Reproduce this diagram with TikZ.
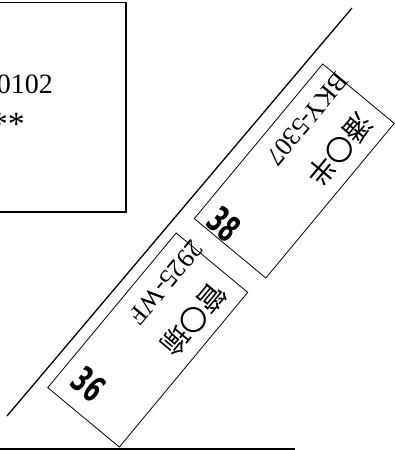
\documentclass[tikz,border=0pt]{standalone}
\usepackage{fontspec}
\usepackage{graphicx}
\setmainfont{Liberation Serif}
\newfontfamily\cjkfont{Noto Sans CJK TC}
\newfontfamily\numfont{DejaVu Sans}
\tikzset{
  frame/.style={draw, line width=1.6pt, rectangle, inner sep=0pt},
  plotbox/.style={draw, line width=0.8pt, rectangle, inner sep=0pt,
    minimum width=201pt, minimum height=93pt, rotate=50.3},
  edgeline/.style={line width=1.3pt},
  infotxt/.style={inner sep=0pt, font=\fontsize{28}{28}\selectfont},
  startxt/.style={inner sep=0pt, font=\fontsize{34}{34}\selectfont},
  platetxt/.style={inner sep=0pt, font=\fontsize{26}{26}\selectfont, rotate=230.3},
  nametxt/.style={inner sep=0pt, font=\cjkfont\fontsize{28}{28}\selectfont, rotate=230.3},
  lotnum/.style={inner sep=0pt, font=\numfont\bfseries\fontsize{36}{36}\selectfont, rotate=-39.7}
}
\begin{document}
\begin{tikzpicture}[x=1pt,y=-1pt]
\useasboundingbox (0,0) rectangle (394,450);
% info box at top left
\node[frame, minimum width=140pt, minimum height=209.5pt, anchor=north east] (info) at (127,1.5) {};
\node[infotxt, anchor=base east] (infoA) at (53,93) {0102};
\node[startxt, anchor=base east] (infoB) at (25,135) {**};
% boundary lines
\coordinate (ltop) at (352,8);
\coordinate (lbot) at (7,416);
\draw[edgeline] (ltop) -- (lbot);
\coordinate (bl) at (-2,449);
\coordinate (br) at (295,449);
\draw[edgeline] (bl) -- (br);
% lot 38
\node[plotbox] (lot38) at (294.25,171) {};
\node[platetxt] (plate38) at (307.5,119) {BKY-5307};
\node[nametxt] (name38) at (340,150) {潘〇半};
\node[lotnum] (num38) at (224,224.5) {\scalebox{0.6}[1]{38}};
% lot 36
\node[plotbox] (lot36) at (147.75,340) {};
\node[platetxt] (plate36) at (166,282.5) {2925-WF};
\node[nametxt] (name36) at (193.5,320) {管〇瑜};
\node[lotnum] (num36) at (88.7,384.5) {\scalebox{0.6}[1]{36}};
\end{tikzpicture}
\end{document}
